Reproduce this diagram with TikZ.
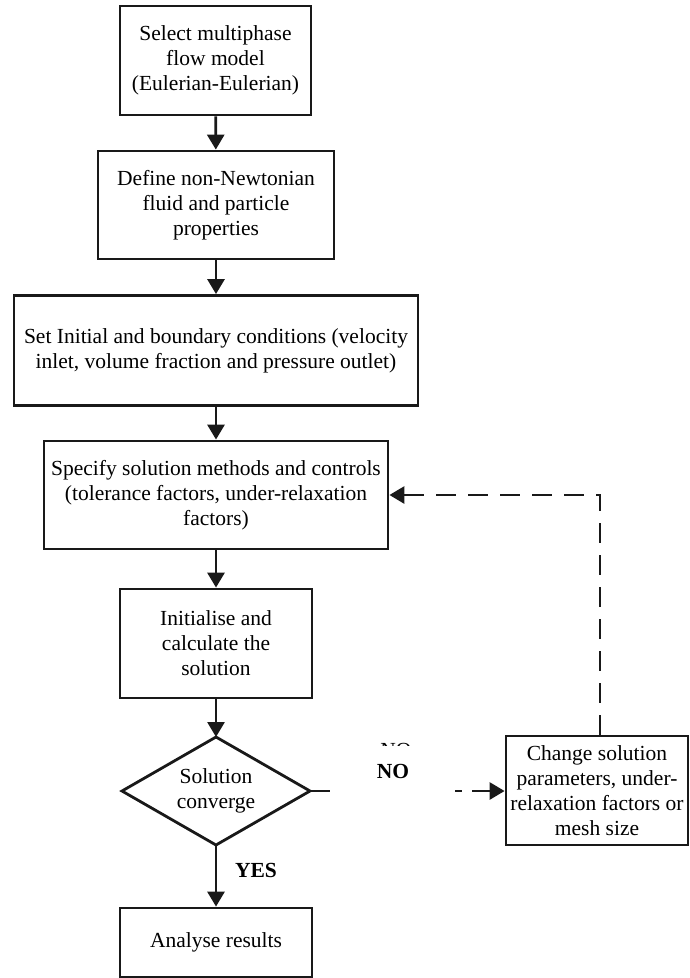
\documentclass[tikz,border=0pt]{standalone}
\usepackage{fontspec}
\setmainfont{Liberation Serif}
\usetikzlibrary{arrows.meta}
\begin{document}
\begin{tikzpicture}[x=1pt,y=-1pt,
  box/.style={draw=black!90,line width=2.8pt,rectangle,inner sep=0pt,align=center,
    font=\fontsize{21.5}{25}\selectfont},
  txt/.style={inner sep=0pt,align=center,font=\fontsize{21.5}{25}\selectfont},
  ln/.style={draw=black!90,line width=2.8pt,line join=miter},
  arr/.style={line width=2.8pt,draw=black!90,-{Triangle[width=17pt,length=15pt]}},
  lbl/.style={font=\fontsize{21.5}{25}\selectfont\bfseries}]
\useasboundingbox (0,0) rectangle (689,978);
\node[box,minimum width=191pt,minimum height=109pt] (b1) at (215.5,60.5)
  {Select multiphase\\flow model\\(Eulerian-Eulerian)};
\node[box,minimum width=236pt,minimum height=108pt] (b2) at (216,205)
  {Define non-Newtonian\\fluid and particle\\properties};
\node[box,minimum width=404pt,minimum height=110pt] (b3) at (216,350.5)
  {Set Initial and boundary conditions (velocity\\inlet, volume fraction and pressure outlet)};
\node[box,minimum width=344pt,minimum height=108pt] (b4) at (216,495)
  {Specify solution methods and controls\\(tolerance factors, under-relaxation\\factors)};
\node[box,minimum width=192pt,minimum height=109pt] (b5) at (216,643.5)
  {Initialise and\\calculate the\\solution};
\node[txt] (d) at (216,791) {Solution\\converge};
\coordinate (dN) at (216,737);
\coordinate (dS) at (216,845);
\coordinate (dE) at (310,791);
\coordinate (dW) at (122,791);
\draw[ln] (dN) -- (dE) -- (dS) -- (dW) -- cycle;
\node[box,minimum width=192pt,minimum height=69pt] (b6) at (216,942.5)
  {Analyse results};
\node[box,minimum width=182pt,minimum height=109pt] (ch) at (597,790.5)
  {Change solution\\parameters, under-\\relaxation factors or\\mesh size};
\draw[arr] (b1) -- (b2);
\draw[arr] (b2) -- (b3);
\draw[arr] (b3) -- (b4);
\draw[arr] (b4) -- (b5);
\draw[arr] (b5) -- (dN);
\draw[arr] (dS) -- (b6);
\draw[arr,dash pattern=on 20pt off 125pt on 7pt off 10pt on 80pt] (dE) -- (dE -| ch.west);
\coordinate (c1) at (600,495);
\draw[arr,dash pattern=on 20pt off 12pt] (ch.north -| c1) -- (c1) -- (b4.east);
\node[lbl] (yes) at (256,870) {YES};
\node[lbl] (no) at (393,771) {NO};
\begin{scope}
  \clip (370,739) rectangle (420,745);
  \node[font=\fontsize{21.5}{25}\selectfont,anchor=north] (no2) at (396,739.5) {NO};
\end{scope}
\end{tikzpicture}
\end{document}
